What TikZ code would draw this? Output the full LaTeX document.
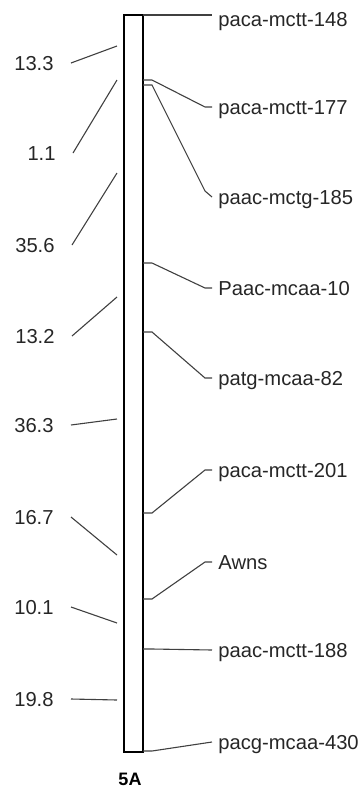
\documentclass[tikz,border=0pt]{standalone}
\usepackage{fontspec}
\setmainfont{Liberation Sans}
\usetikzlibrary{calc}
\tikzset{
  mkname/.style={anchor=west,inner xsep=3pt,inner ysep=0pt,text height=7.2pt,text depth=0pt,font=\fontsize{10.1}{12}\selectfont,text=black!85},
  cmval/.style={anchor=east,inner xsep=8.5pt,inner ysep=0pt,text height=7.2pt,text depth=0pt,font=\fontsize{10.1}{12}\selectfont,text=black!85},
  link/.style={draw=black!75,line width=0.55pt}
}
\begin{document}
\begin{tikzpicture}[x=0.5pt,y=-0.5pt]
                \useasboundingbox (0,0) rectangle (363,789);
                % chromosome bar
                \draw[line width=0.8pt](124,15) rectangle (143,752);
                \node[font=\bfseries\fontsize{9}{11}\selectfont,inner sep=0pt] (chr) at (130,779) {5A};
                % marker positions on the bar
                \coordinate (r148) at (143,15);
                \coordinate (r177) at (143,80);
                \coordinate (r185) at (143,85);
                \coordinate (r10) at (143,263);
                \coordinate (r82) at (143,332);
                \coordinate (r201) at (143,513);
                \coordinate (rawn) at (143,599);
                \coordinate (r188) at (143,649);
                \coordinate (r430) at (143,751);
                \node[mkname] (m148) at (212,19) {paca-mctt-148};
                \node[mkname] (m177) at (212,107) {paca-mctt-177};
                \node[mkname] (m185) at (212,197) {paac-mctg-185};
                \node[mkname] (m10) at (212,288) {Paac-mcaa-10};
                \node[mkname] (m82) at (212,378) {patg-mcaa-82};
                \node[mkname] (m201) at (212,470) {paca-mctt-201};
                \node[mkname] (mawn) at (212,562) {Awns};
                \node[mkname] (m188) at (212,650) {paac-mctt-188};
                \node[mkname] (m430) at (212,742) {pacg-mcaa-430};
                \draw[link](r148)--(m148.west |- r148);
                \draw[link](r177)--++(9,0)--($(m177.west)+(-7,0)$)--(m177.west);
                \draw[link](r185)--++(9,0)--($(m185.west)+(-7,-6)$)--(m185.west);
                \draw[link](r10)--++(9,0)--($(m10.west)+(-7,0)$)--(m10.west);
                \draw[link](r82)--++(9,0)--($(m82.west)+(-7,0)$)--(m82.west);
                \draw[link](r201)--++(9,0)--($(m201.west)+(-7,0)$)--(m201.west);
                \draw[link](rawn)--++(9,0)--($(mawn.west)+(-7,0)$)--(mawn.west);
                \draw[link](r188)--++(9,0)--(m188.west);
                \draw[link](r430)--++(9,0)--(m430.west);
                % distances on the left
                \coordinate (d1) at (117,46);
                \coordinate (d2) at (117,80);
                \coordinate (d3) at (117,173);
                \coordinate (d4) at (117,297);
                \coordinate (d5) at (117,419);
                \coordinate (d6) at (117,555);
                \coordinate (d7) at (117,623);
                \coordinate (d8) at (117,700);
                \node[cmval] (c1) at (71,63) {13.3};
                \node[cmval] (c2) at (73,153) {1.1};
                \node[cmval] (c3) at (72,245) {35.6};
                \node[cmval] (c4) at (72,336) {13.2};
                \node[cmval] (c5) at (71,425) {36.3};
                \node[cmval] (c6) at (71,517) {16.7};
                \node[cmval] (c7) at (71,607) {10.1};
                \node[cmval] (c8) at (71,699) {19.8};
                \draw[link](c1.east)--(d1);
                \draw[link](c2.east)--(d2);
                \draw[link](c3.east)--(d3);
                \draw[link](c4.east)--(d4);
                \draw[link](c5.east)--(d5);
                \draw[link](c6.east)--(d6);
                \draw[link](c7.east)--(d7);
                \draw[link](c8.east)--(d8);
\end{tikzpicture}
\end{document}
